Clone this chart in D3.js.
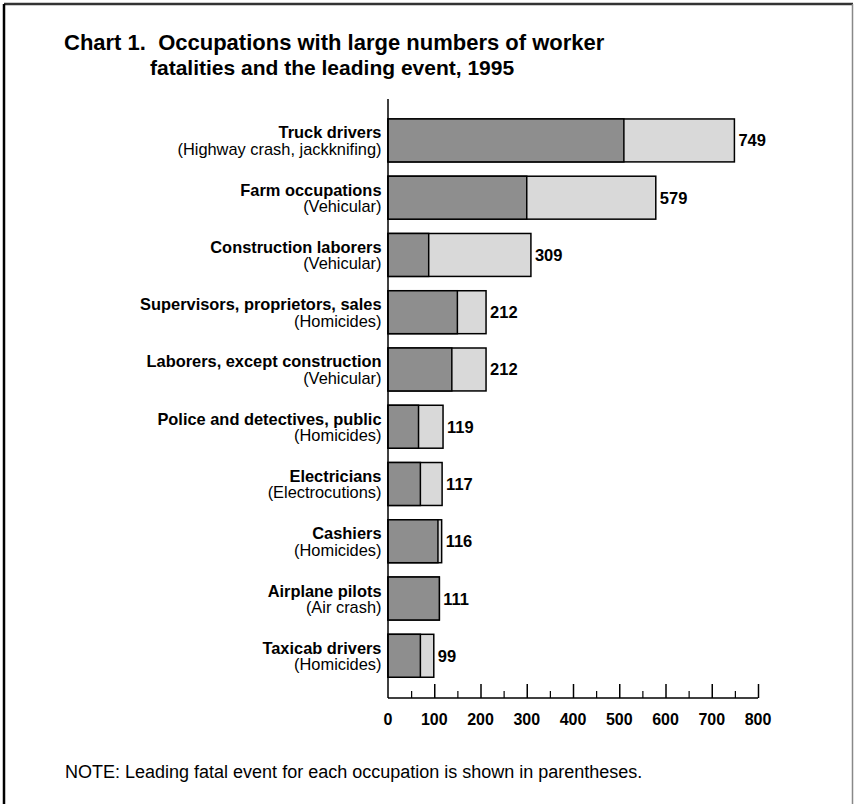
<!DOCTYPE html>
<html>
<head>
<meta charset="utf-8">
<script src="https://cdn.jsdelivr.net/npm/d3@7/dist/d3.min.js"></script>
<style>
  body { margin: 0; background: #fff; }
  svg { display: block; font-family: "Liberation Sans", Arial, sans-serif; }
</style>
</head>
<body>
<div id="area"></div>
<script>
// occupations, top to bottom
var occupations = ["Truck drivers", "Farm occupations", "Construction laborers",
    "Supervisors, proprietors, sales", "Laborers, except construction",
    "Police and detectives, public", "Electricians", "Cashiers",
    "Airplane pilots", "Taxicab drivers"];
var leadingEvents = ["(Highway crash, jackknifing)", "(Vehicular)", "(Vehicular)",
    "(Homicides)", "(Vehicular)", "(Homicides)", "(Electrocutions)",
    "(Homicides)", "(Air crash)", "(Homicides)"];
// fatalities from the leading event (dark part) and all fatalities (bar end)
var leadingCounts = [510, 300, 88, 150, 138, 66, 70, 108, 111, 70];
var totalCounts = [749, 579, 309, 212, 212, 119, 117, 116, 111, 99];
var xTicks = [0, 100, 200, 300, 400, 500, 600, 700, 800];
var xMinorTicks = [50, 150, 250, 350, 450, 550, 650, 750];

var width = 854, height = 804;

var svg = d3.select("#area")
    .append("svg")
    .attr("width", width)
    .attr("height", height);

// frame
svg.append("line").attr("x1", 4).attr("y1", 4).attr("x2", 853).attr("y2", 4)
    .attr("stroke", "#333").attr("stroke-width", 2.5);
svg.append("line").attr("x1", 4).attr("y1", 4).attr("x2", 4).attr("y2", 804)
    .attr("stroke", "#000").attr("stroke-width", 2.5);
svg.append("line").attr("x1", 852.5).attr("y1", 4).attr("x2", 852.5).attr("y2", 804)
    .attr("stroke", "#888").attr("stroke-width", 1.5);

// title
svg.append("text").attr("x", 64).attr("y", 50)
    .attr("font-size", 22).attr("font-weight", "bold")
    .attr("xml:space", "preserve")
    .text("Chart 1.  Occupations with large numbers of worker");
svg.append("text").attr("x", 150).attr("y", 75)
    .attr("font-size", 21).attr("font-weight", "bold")
    .text("fatalities and the leading event, 1995");

var x = d3.scaleLinear()
    .domain([0, 800])
    .range([388, 758]);

var y = d3.scaleBand()
    .domain(occupations)
    .range([111.8, 684.4])
    .paddingInner(0.25)
    .paddingOuter(0.125);

var axisY = 698;

// bars: total first, then the leading event on top
var rows = occupations.map(function (d, i) {
    return { name: d, event: leadingEvents[i], lead: leadingCounts[i], total: totalCounts[i] };
});

var g = svg.append("g");
g.selectAll(".total")
    .data(rows)
    .enter().append("rect")
    .attr("x", x(0))
    .attr("y", function (d) { return y(d.name); })
    .attr("width", function (d) { return x(d.total) - x(0); })
    .attr("height", y.bandwidth())
    .attr("fill", "#d9d9d9")
    .attr("stroke", "#000")
    .attr("stroke-width", 1.5);
g.selectAll(".lead")
    .data(rows)
    .enter().append("rect")
    .attr("x", x(0))
    .attr("y", function (d) { return y(d.name); })
    .attr("width", function (d) { return x(d.lead) - x(0); })
    .attr("height", y.bandwidth())
    .attr("fill", "#8e8e8e")
    .attr("stroke", "#000")
    .attr("stroke-width", 1.5);

// value labels
g.selectAll(".val")
    .data(rows)
    .enter().append("text")
    .attr("x", function (d) { return x(d.total) + 4; })
    .attr("y", function (d) { return y(d.name) + y.bandwidth() / 2 + 6; })
    .attr("font-size", 16.5).attr("font-weight", "bold")
    .text(function (d) { return d.total; });

// category labels: name in bold, leading event below
g.selectAll(".name")
    .data(rows)
    .enter().append("text")
    .attr("x", 381.5)
    .attr("y", function (d) { return y(d.name) + y.bandwidth() / 2 - 2; })
    .attr("text-anchor", "end")
    .attr("font-size", 16.4).attr("font-weight", "bold")
    .text(function (d) { return d.name; });
g.selectAll(".event")
    .data(rows)
    .enter().append("text")
    .attr("x", 381.5)
    .attr("y", function (d) { return y(d.name) + y.bandwidth() / 2 + 14.5; })
    .attr("text-anchor", "end")
    .attr("font-size", 16.4)
    .text(function (d) { return d.event; });

// y axis line
svg.append("line")
    .attr("x1", x(0)).attr("x2", x(0))
    .attr("y1", 99).attr("y2", axisY)
    .attr("stroke", "#000").attr("stroke-width", 1.5);

// x axis, ticks point up
var xAxis = svg.append("g")
    .attr("transform", "translate(0," + axisY + ")")
    .call(d3.axisTop(x).tickValues(xTicks.slice(1)).tickSize(14).tickFormat(""));
xAxis.select(".domain").attr("d", "M" + x(0) + ",0H" + x(800))
    .attr("stroke-width", 1.5);
xAxis.selectAll(".tick line").attr("stroke-width", 1.5);

var xMinor = svg.append("g")
    .attr("transform", "translate(0," + axisY + ")")
    .call(d3.axisTop(x).tickValues(xMinorTicks).tickSize(7).tickFormat(""));
xMinor.select(".domain").remove();
xMinor.selectAll(".tick line").attr("stroke-width", 1.2);

svg.append("g").selectAll("text")
    .data(xTicks)
    .enter().append("text")
    .attr("x", function (d) { return x(d); })
    .attr("y", 725)
    .attr("text-anchor", "middle")
    .attr("font-size", 16).attr("font-weight", "bold")
    .text(function (d) { return d; });

// note
svg.append("text").attr("x", 65).attr("y", 778)
    .attr("font-size", 18)
    .text("NOTE: Leading fatal event for each occupation is shown in parentheses.");
</script>
</body>
</html>
